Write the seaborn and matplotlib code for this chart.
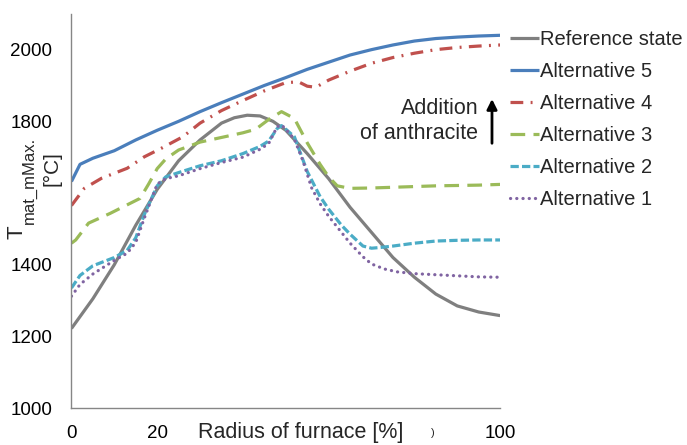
import matplotlib
matplotlib.use("Agg")
import matplotlib.pyplot as plt
import seaborn as sns
import numpy as np

sns.set_theme(style="white")
plt.rcParams['font.family'] = ['Liberation Sans', 'DejaVu Sans']

# ---- data ----
ref_x = [0, 5, 10, 15, 20, 25, 30, 35, 38, 41, 44, 47, 50, 55, 60, 65, 70, 75, 80, 85, 90, 95, 100]
ref_y = [1222, 1305, 1400, 1510, 1610, 1690, 1748, 1795, 1810, 1817, 1815, 1800, 1775, 1710,
         1640, 1560, 1490, 1420, 1365, 1318, 1285, 1268, 1258]

alt5_x = [0, 2, 5, 10, 15, 20, 25, 30, 35, 40, 45, 50, 55, 60, 65, 70, 75, 80, 85, 90, 95, 100]
alt5_y = [1632, 1680, 1697, 1718, 1748, 1775, 1800, 1827, 1852, 1876, 1900, 1922, 1945, 1965,
          1985, 2000, 2013, 2024, 2031, 2035, 2038, 2040]

alt4_x = [0, 3, 7, 13, 17, 21, 26, 30, 35, 40, 45, 50, 53, 55, 57, 60, 65, 70, 75, 80, 85, 90, 95, 100]
alt4_y = [1565, 1613, 1641, 1669, 1701, 1725, 1757, 1795, 1830, 1858, 1885, 1908, 1910, 1898,
          1895, 1915, 1940, 1962, 1978, 1990, 2000, 2006, 2010, 2013]

alt3_x = [0, 1, 4, 9, 16, 18, 20, 22, 25, 30, 35, 40, 43, 46, 49, 52, 55, 58, 60, 62, 65,
          70, 75, 80, 85, 90, 95, 100]
alt3_y = [1460, 1469, 1516, 1543, 1585, 1625, 1668, 1695, 1720, 1742, 1755, 1768, 1778, 1805,
          1827, 1808, 1740, 1680, 1645, 1620, 1613, 1614, 1616, 1618, 1620, 1621, 1622, 1624]

alt2_x = [0, 2, 5, 10, 13, 15, 17, 20, 22, 25, 30, 35, 40, 44, 46, 48, 49, 50, 52, 55, 58,
          60, 63, 65, 68, 70, 72, 75, 80, 85, 90, 95, 100]
alt2_y = [1335, 1370, 1397, 1420, 1440, 1475, 1540, 1620, 1645, 1657, 1676, 1690, 1710, 1730,
          1745, 1780, 1788, 1778, 1757, 1660, 1590, 1555, 1510, 1485, 1452, 1446, 1448, 1452,
          1460, 1466, 1468, 1469, 1469]

alt1_x = [0, 2, 5, 10, 13, 15, 17, 20, 22, 25, 30, 35, 40, 44, 46, 48, 49, 50, 52, 54, 56,
          58, 60, 63, 65, 68, 70, 73, 76, 80, 85, 90, 95, 100]
alt1_y = [1312, 1345, 1374, 1412, 1432, 1462, 1530, 1625, 1640, 1648, 1668, 1685, 1700, 1722,
          1738, 1785, 1790, 1778, 1750, 1690, 1615, 1570, 1535, 1490, 1460, 1422, 1402, 1388,
          1380, 1375, 1372, 1369, 1366, 1365]

labels = ["Reference state", "Alternative 5", "Alternative 4",
          "Alternative 3", "Alternative 2", "Alternative 1"]
xticks = [0, 20, 40, 60, 80, 100]
xticklabels = ["0", "20", "", "", "", "100"]
yticks = [1000, 1200, 1400, 1600, 1800, 2000]
yticklabels = ["1000", "1200", "1400", "", "1800", "2000"]

# ---- plot ----
fig = plt.figure(figsize=(6.87, 4.45), dpi=100)
ax = fig.add_axes([0.104, 0.083, 0.624, 0.886])

series = [
    (ref_x, ref_y, "#7f7f7f", None, "butt"),
    (alt5_x, alt5_y, "#4a7ebb", None, "butt"),
    (alt4_x, alt4_y, "#c0504d", (4.0, 2.3, 0.6, 2.3), "butt"),
    (alt3_x, alt3_y, "#9bbb59", (4.6, 2.6), "butt"),
    (alt2_x, alt2_y, "#4bacc6", (2.6, 1.0), "butt"),
    (alt1_x, alt1_y, "#8064a2", (0.05, 1.9), "round"),
]
for (xs, ys, col, dash, cap), lab in zip(series, labels):
    sns.lineplot(x=xs, y=ys, ax=ax, color=col, linewidth=2.3, label=lab,
                 estimator=None, sort=False)
    ln = ax.lines[-1]
    if dash is not None:
        ln.set_dashes(dash)
    ln.set_dash_capstyle(cap)
    ln.set_solid_capstyle("butt")

ax.set_xlim(0, 100)
ax.set_ylim(1000, 2100)
ax.set_xticks(xticks)
ax.set_xticklabels(xticklabels)
ax.set_yticks(yticks)
ax.set_yticklabels(yticklabels)
for s in ["top", "right"]:
    ax.spines[s].set_visible(False)
for s in ["left", "bottom"]:
    ax.spines[s].set_color("#868686")
    ax.spines[s].set_linewidth(1.0)
ax.tick_params(axis="both", which="major", length=4, width=1, color="#bfbfbf",
               labelsize=13.5, labelcolor="black", direction="out")
ax.tick_params(axis="y", pad=10)
ax.tick_params(axis="x", pad=8)

ax.set_xlabel("")
ax.set_ylabel("")
fig.text(0.437, 0.028, "Radius of furnace [%]", fontsize=15.5, ha="center", va="center")
fig.text(0.630, 0.026, ")", fontsize=8, ha="center", va="center")
# y label: T with subscript, then [°C]
fig.text(17 / 687, 1 - 232 / 445, "T", fontsize=16, rotation=90, ha="center", va="center")
fig.text(29 / 687, 1 - 180 / 445, "mat_mMax.", fontsize=12, rotation=90,
         ha="center", va="center")
fig.text(52 / 687, 1 - 169 / 445, "[°C]", fontsize=15, rotation=90, ha="center", va="center")

# annotation
ax.text(94.9, 1801, "Addition\nof anthracite", fontsize=15.5, ha="right", va="center",
        linespacing=1.3)
ax.annotate("", xy=(98.1, 1870), xytext=(98.1, 1731),
            arrowprops=dict(arrowstyle="-|>", color="black", lw=2.0,
                            mutation_scale=15))

leg = ax.legend(loc="upper left", bbox_to_anchor=(0.730, 0.950),
                bbox_transform=fig.transFigure, frameon=False, fontsize=14.5,
                handlelength=1.45, handletextpad=0.05, labelspacing=0.64,
                borderaxespad=0)

fig.savefig("out.png", dpi=100)
